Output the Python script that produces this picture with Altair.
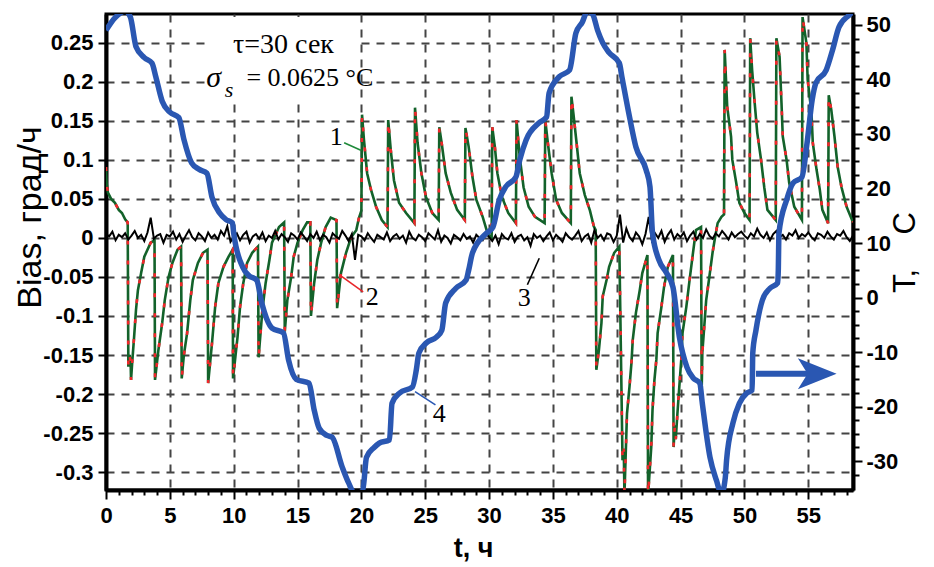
import altair as alt
import pandas as pd

# ---------------- data ----------------
# curve 1 (measured bias, град/ч) ; curve 2 (model) follows it
BIAS_POINTS = [
    (0.00, 0.091), (0.05, 0.070), (0.15, 0.058), (0.40, 0.050), (0.70, 0.045),
    (1.00, 0.036), (1.25, 0.032), (1.50, 0.024), (1.70, 0.020), (1.75, -0.165),
    (1.85, -0.150), (1.93, -0.160), (1.96, -0.182), (2.05, -0.160), (2.20, -0.127),
    (2.35, -0.092), (2.50, -0.067), (2.75, -0.045), (3.00, -0.024), (3.50, -0.006),
    (3.80, -0.003), (3.84, -0.182), (4.10, -0.144), (4.40, -0.109), (4.60, -0.080),
    (4.90, -0.050), (5.20, -0.032), (5.60, -0.015), (5.88, -0.011), (5.93, -0.180),
    (6.10, -0.150), (6.35, -0.122), (6.60, -0.080), (6.80, -0.054), (7.20, -0.032),
    (7.60, -0.019), (7.95, -0.015), (8.00, -0.186), (8.30, -0.135), (8.55, -0.088),
    (8.80, -0.058), (9.20, -0.037), (9.60, -0.024), (9.92, -0.015), (9.95, -0.180),
    (10.30, -0.127), (10.50, -0.088), (10.75, -0.058), (11.05, -0.032), (11.45, -0.019),
    (11.90, -0.011), (11.95, -0.153), (12.25, -0.092), (12.50, -0.058), (12.80, -0.028),
    (13.00, -0.006), (13.55, 0.014), (13.95, 0.020), (14.00, -0.120), (14.20, -0.080),
    (14.50, -0.050), (14.70, -0.024), (15.00, -0.006), (15.40, 0.010), (15.75, 0.020),
    (16.00, 0.020), (16.05, -0.100), (16.30, -0.058), (16.55, -0.028), (16.85, -0.006),
    (17.20, 0.014), (17.60, 0.026), (18.05, 0.023), (18.10, -0.090), (18.40, -0.045),
    (18.80, -0.019), (19.20, 0.001), (19.60, 0.010), (19.80, 0.025), (20.00, 0.035),
    (20.05, 0.158), (20.20, 0.126), (20.45, 0.083), (20.75, 0.062), (21.15, 0.040),
    (21.60, 0.023), (22.05, 0.014), (22.10, 0.151), (22.30, 0.113), (22.55, 0.074),
    (22.95, 0.045), (23.50, 0.032), (24.15, 0.019), (24.20, 0.167), (24.40, 0.122),
    (24.70, 0.083), (25.05, 0.053), (25.55, 0.032), (26.05, 0.023), (26.10, 0.142),
    (26.30, 0.120), (26.60, 0.083), (27.00, 0.058), (27.50, 0.036), (28.10, 0.023),
    (28.15, 0.141), (28.40, 0.117), (28.70, 0.078), (29.00, 0.049), (29.50, 0.027),
    (29.90, 0.005), (30.20, 0.000), (30.25, 0.142), (30.45, 0.117), (30.65, 0.083),
    (31.00, 0.053), (31.50, 0.032), (32.10, 0.019), (32.15, 0.151), (32.40, 0.104),
    (32.70, 0.065), (33.10, 0.040), (33.60, 0.027), (34.35, 0.019), (34.40, 0.151),
    (34.60, 0.122), (34.90, 0.083), (35.25, 0.049), (35.70, 0.032), (36.40, 0.019),
    (36.45, 0.181), (36.60, 0.160), (36.85, 0.122), (37.10, 0.083), (37.50, 0.055),
    (37.90, 0.035), (38.20, 0.015), (38.35, 0.010), (38.40, -0.169), (38.60, -0.144),
    (38.80, -0.109), (38.90, -0.075), (39.20, -0.054), (39.40, -0.037), (39.80, -0.019),
    (40.20, -0.011), (40.45, -0.285), (40.55, -0.270), (40.60, -0.330), (40.80, -0.225),
    (41.00, -0.190), (41.15, -0.160), (41.25, -0.131), (41.50, -0.096), (41.80, -0.067),
    (42.00, -0.045), (42.40, -0.022), (42.45, -0.330), (42.70, -0.268), (42.80, -0.220),
    (42.95, -0.182), (43.10, -0.156), (43.20, -0.122), (43.50, -0.088), (43.70, -0.063),
    (44.00, -0.037), (44.40, -0.022), (44.45, -0.268), (44.55, -0.240), (44.62, -0.258),
    (44.75, -0.225), (44.90, -0.190), (45.05, -0.156), (45.15, -0.122), (45.45, -0.088),
    (45.70, -0.054), (45.90, -0.028), (46.20, 0.010), (46.60, 0.014), (46.65, -0.195),
    (46.70, -0.147), (46.85, -0.114), (47.00, -0.080), (47.25, -0.050), (47.50, -0.019),
    (47.70, 0.001), (47.90, 0.019), (48.20, 0.027), (48.40, 0.030), (48.45, 0.241),
    (48.65, 0.168), (48.95, 0.130), (49.05, 0.100), (49.35, 0.071), (49.60, 0.045),
    (50.00, 0.032), (50.40, 0.023), (50.45, 0.256), (50.60, 0.215), (50.80, 0.173),
    (51.00, 0.135), (51.30, 0.100), (51.55, 0.065), (51.80, 0.036), (52.45, 0.023),
    (52.50, 0.256), (52.75, 0.232), (52.90, 0.173), (53.00, 0.130), (53.30, 0.100),
    (53.50, 0.071), (53.90, 0.040), (54.50, 0.023), (54.55, 0.283), (54.85, 0.250),
    (54.95, 0.203), (55.25, 0.160), (55.35, 0.122), (55.65, 0.087), (55.90, 0.062),
    (56.10, 0.036), (56.55, 0.019), (56.60, 0.183), (56.80, 0.164), (57.05, 0.130),
    (57.30, 0.091), (57.60, 0.065), (58.00, 0.040), (58.50, 0.020),
]

# curve 3: residual noise, sampled every 0.25 h, in units of 0.001 град/ч
NOISE_STEP_H = 0.25
NOISE_MILLI = [
    5, 2, 8, -3, 4, 1, 6, -2, 3, 9, 0, 4, -4, 7, 26, -1, 3, 5, -6, 4,
    2, 8, -2, 5, -5, 3, 10, 1, -3, 6, 2, -4, 7, 0, 4, -2, 9, 3, 15, -5,
    1, 6, -3, 4, 8, -6, 2, 5, -1, 7, -4, 3, 0, 9, -2, 5, 1, -5, 6, 3,
    -2, 7, 2, -4, 5, 0, 8, -3, 4, 1, -6, 6, 2, -1, 9, 3, -4, 5, -28, 4,
    2, -3, 6, 0, -5, 4, 1, -2, 7, -4, 2, 5, -1, 3, -6, 8, 0, -3, 4, 1,
    -4, 6, 2, -2, 10, -5, 3, 0, -7, 4, 1, -3, 5, -1, 2, -6, 4, 0, -3, 6,
    1, -4, 3, -8, 5, 0, -2, 6, -5, 2, 4, -3, 1, -10, 5, 0, 3, -4, 2, 7,
    -3, 4, 0, -5, 6, 1, -2, 3, 9, -4, 2, 5, -6, 10, 0, 4, -3, 6, 4, -5,
    3, 30, -6, 12, 1, -4, 7, 2, -8, 5, 27, -3, 6, 0, 9, -5, 4, 10, -2, 5,
    1, 7, -4, 3, 8, -2, 5, 0, 11, 3, -1, 6, 2, 9, 4, -2, 7, 1, 5, 8,
    3, -1, 6, 2, 12, 4, 0, 7, -3, 5, 9, 1, 4, -2, 6, 3, 10, 0, 5, 2,
    7, 1, -3, 6, 4, 0, 8, 2, -2, 5, 3, 9, 1, -4, 3,
]

# curve 4: temperature, °C
TEMP_POINTS = [
    (0.0, 49.0), (0.7, 51.3), (1.5, 52.5), (1.9, 51.5), (2.35, 46.0), (3.0, 44.0),
    (3.6, 43.0), (3.9, 40.5), (4.4, 36.0), (5.0, 34.0), (5.7, 33.0), (6.1, 29.0),
    (6.7, 24.7), (7.3, 23.5), (7.9, 22.8), (8.3, 18.4), (8.9, 15.5), (9.4, 14.3),
    (9.9, 13.7), (10.0, 11.8), (10.7, 5.6), (11.2, 4.0), (11.8, 3.2), (12.2, -1.0),
    (13.0, -5.6), (13.9, -6.5), (14.3, -11.5), (14.9, -15.0), (15.9, -15.7),
    (16.3, -20.6), (16.7, -24.0), (17.3, -25.3), (17.7, -25.6), (18.5, -31.1),
    (19.0, -34.0), (19.5, -36.0), (20.1, -35.5), (20.4, -29.3), (21.0, -27.5),
    (21.4, -26.7), (22.2, -26.1), (22.4, -19.4), (23.0, -17.5), (24.0, -16.4),
    (24.3, -13.3), (24.5, -10.2), (25.1, -8.3), (25.9, -7.2), (26.3, -6.0),
    (26.6, -1.0), (27.4, 1.7), (28.2, 3.2), (28.4, 5.0), (28.7, 8.2), (29.8, 11.8),
    (30.3, 12.9), (30.8, 17.9), (31.3, 20.3), (32.1, 22.1), (32.4, 25.2), (32.9, 28.9),
    (33.9, 32.0), (34.5, 33.1), (34.7, 37.5), (35.5, 40.5), (36.3, 41.7), (36.8, 48.5),
    (37.3, 50.5), (37.7, 52.5), (38.1, 52.0), (38.5, 49.0), (38.9, 46.7), (39.4, 44.9),
    (40.2, 43.0), (40.4, 40.5), (41.0, 33.1), (41.5, 27.6), (42.3, 23.4), (42.6, 20.3),
    (42.8, 11.8), (43.3, 6.9), (43.9, 4.5), (44.4, 1.9), (44.9, -7.2), (45.5, -12.8),
    (46.0, -14.8), (46.5, -15.7), (46.7, -19.4), (47.3, -29.3), (47.8, -33.5),
    (48.2, -36.0), (48.5, -33.0), (48.6, -29.8), (49.1, -23.0), (49.6, -19.4),
    (50.2, -17.5), (50.6, -17.0), (50.65, -10.2), (50.9, -6.0), (51.4, -0.5),
    (52.0, 1.7), (52.6, 2.7), (52.65, 5.0), (52.7, 11.8), (53.3, 17.9), (53.8, 21.0),
    (54.5, 22.1), (54.9, 28.3), (55.3, 36.2), (55.6, 39.4), (56.4, 41.7), (56.9, 45.4),
    (57.4, 49.6), (58.2, 51.8), (58.5, 52.5),
]

X_TICKS = list(range(0, 59))
BIAS_TICKS = [-0.3, -0.25, -0.2, -0.15, -0.1, -0.05, 0, 0.05, 0.1, 0.15, 0.2, 0.25]
T_TICKS = [-32.5, -30, -27.5, -25, -22.5, -20, -17.5, -15, -12.5, -10, -7.5, -5, -2.5,
           0, 2.5, 5, 7.5, 10, 12.5, 15, 17.5, 20, 22.5, 25, 27.5, 30, 32.5, 35,
           37.5, 40, 42.5, 45, 47.5, 50]
X_DOMAIN = [0, 58.5]
B_DOMAIN = [-0.323, 0.287]
T_DOMAIN = [-35.3, 52]

# annotations (text, t, bias)
PARAM_BOX = [(7.8, 19.7, 0.176, 0.283)]  # white backing behind the parameter text
PARAM_TAU = [("τ=30 сек", 13.9, 0.247)]
PARAM_SIGMA = [("σ", 7.85, 0.205)]
PARAM_SUB = [("s", 9.3, 0.189)]
PARAM_VAL = [("= 0.0625 °C", 11.0, 0.205)]
CURVE_LABELS = [("1", 18.03, 0.129), ("2", 20.85, -0.076), ("3", 32.76, -0.077), ("4", 26.1, -0.226)]
LEADERS = [  # (curve, t0, b0, t1, b1)
    ("1", 18.65, 0.122, 20.0, 0.112),
    ("2", 18.26, -0.047, 20.14, -0.069),
    ("3", 33.0, -0.060, 33.93, -0.026),
    ("4", 24.2, -0.197, 25.8, -0.214),
]
LEADER_COLORS = ["#1f8a3a", "#e8262a", "#000000", "#2a57b2"]
ARROW = [(50.9, -0.174), (55.6, -0.174)]
ARROW_HEAD = [(55.7, -0.174)]

# ---------------- tables ----------------
bias_df = pd.DataFrame(BIAS_POINTS, columns=["t", "b"])
bias_df["i"] = range(len(bias_df))
noise_df = pd.DataFrame({"t": [k * NOISE_STEP_H for k in range(len(NOISE_MILLI))],
                         "b": [v / 1000 for v in NOISE_MILLI]})
temp_df = pd.DataFrame(TEMP_POINTS, columns=["t", "T"])
temp_df["i"] = range(len(temp_df))
box_df = pd.DataFrame(PARAM_BOX, columns=["t", "t2", "b", "b2"])

lead_rows = []
for name, t0, b0, t1, b1 in LEADERS:
    lead_rows.append({"c": name, "t": t0, "b": b0, "o": 0})
    lead_rows.append({"c": name, "t": t1, "b": b1, "o": 1})
lead_df = pd.DataFrame(lead_rows)
arrow_df = pd.DataFrame(ARROW, columns=["t", "b"])
head_df = pd.DataFrame(ARROW_HEAD, columns=["t", "b"])


def txt_df(rows):
    return pd.DataFrame(rows, columns=["s", "t", "b"])


# ---------------- axes ----------------
MAJ5 = "datum.value % 5 === 0"
X_AXIS = alt.Axis(
    values=X_TICKS,
    labelExpr=f"{MAJ5} ? datum.label : ''",
    tickSize={"condition": {"test": MAJ5, "value": 9}, "value": 5},
    tickColor="black", tickWidth=2,
    grid=True, gridDash=[8, 7], gridColor="#444444", gridWidth=2,
    gridOpacity={"condition": {"test": f"{MAJ5} && datum.value > 0", "value": 1}, "value": 0},
    domainColor="black", domainWidth=4,
    labelFont="Liberation Sans", labelFontSize=22, labelFontWeight="bold", labelColor="black",
    labelPadding=6, labelFlush=False, labelOverlap=False,
    title="t, ч", titleFont="Liberation Sans", titleFontSize=27, titleFontWeight="bold",
    titleColor="black", titleX=367, titleY=58, titleAlign="center", titleBaseline="middle",
)
NUMFMT = "(datum.value < 0 ? '-' : '') + format(abs(datum.value), '~g')"
B_AXIS = alt.Axis(
    values=BIAS_TICKS, labelExpr=NUMFMT,
    tickSize=8, tickColor="black", tickWidth=2,
    grid=True, gridDash=[8, 7], gridColor="#444444", gridWidth=2,
    domainColor="black", domainWidth=4,
    labelFont="Liberation Sans", labelFontSize=22, labelFontWeight="bold", labelColor="black",
    labelPadding=5, labelFlush=False, labelOverlap=False,
    title="Bias, град/ч", titleFont="Liberation Sans", titleFontSize=34, titleFontWeight="normal",
    titleColor="black", titleX=-76, titleY=203, titleAngle=270, titleAlign="center",
    titleBaseline="middle",
)
MAJ10 = "datum.value % 10 === 0"
T_AXIS = alt.Axis(
    orient="right", values=T_TICKS,
    labelExpr=f"{MAJ10} ? ({NUMFMT}) : ''",
    tickSize={"condition": {"test": MAJ10, "value": 9}, "value": 6},
    tickColor="black", tickWidth=2, grid=False,
    domainColor="black", domainWidth=4,
    labelFont="Liberation Sans", labelFontSize=22, labelFontWeight="bold", labelColor="black",
    labelPadding=4, labelFlush=False, labelOverlap=False,
    title="T,\u00a0\u00a0\u00a0\u00a0C", titleFont="Liberation Sans", titleFontSize=31,
    titleFontWeight="normal", titleColor="black", titleX=52, titleY=238, titleAngle=270,
    titleAlign="center", titleBaseline="middle",
)

X = alt.X("t:Q", scale=alt.Scale(domain=X_DOMAIN, nice=False, zero=False), axis=X_AXIS)
YB = alt.Y("b:Q", scale=alt.Scale(domain=B_DOMAIN, nice=False, zero=False), axis=B_AXIS)
YT = alt.Y("T:Q", scale=alt.Scale(domain=T_DOMAIN, nice=False, zero=False), axis=T_AXIS)

box = alt.Chart(box_df).mark_rect(color="white", opacity=1).encode(
    x=X, x2="t2:Q", y=YB, y2="b2:Q")

green = alt.Chart(bias_df).mark_line(color="#13622a", strokeWidth=2.6, clip=True).encode(
    x=X, y=YB, order="i:Q")
red = alt.Chart(bias_df).mark_line(color="#f0262a", strokeWidth=2.6, strokeDash=[4, 16],
                                   clip=True).encode(x=X, y=YB, order="i:Q")
noise = alt.Chart(noise_df).mark_line(color="black", strokeWidth=2, clip=True).encode(x=X, y=YB)

leaders = alt.Chart(lead_df).mark_line(strokeWidth=1.6).encode(
    x=X, y=YB, order="o:Q",
    color=alt.Color("c:N", scale=alt.Scale(domain=["1", "2", "3", "4"], range=LEADER_COLORS),
                    legend=None))

serif = "Liberation Serif"
tau = alt.Chart(txt_df(PARAM_TAU)).mark_text(font=serif, fontSize=28, color="black",
                                             align="center", baseline="middle").encode(
    x=X, y=YB, text="s:N")
sigma = alt.Chart(txt_df(PARAM_SIGMA)).mark_text(font=serif, fontSize=30, fontStyle="italic",
                                                 color="black", align="left",
                                                 baseline="middle").encode(x=X, y=YB, text="s:N")
sub = alt.Chart(txt_df(PARAM_SUB)).mark_text(font=serif, fontSize=22, fontStyle="italic",
                                             color="black", align="left",
                                             baseline="middle").encode(x=X, y=YB, text="s:N")
val = alt.Chart(txt_df(PARAM_VAL)).mark_text(font=serif, fontSize=26, color="black",
                                             align="left", baseline="middle").encode(
    x=X, y=YB, text="s:N")
nums = alt.Chart(txt_df(CURVE_LABELS)).mark_text(font=serif, fontSize=26, color="black",
                                                 align="center", baseline="middle").encode(
    x=X, y=YB, text="s:N")

shaft = alt.Chart(arrow_df).mark_line(color="#2a57b2", strokeWidth=6).encode(x=X, y=YB)
head = alt.Chart(head_df).mark_point(
    shape="M -1 -0.8 L 1 0 L -1 0.8 L -0.5 0 Z", size=1500, filled=True, color="#2a57b2",
    opacity=1).encode(x=X, y=YB)

left = alt.layer(box, green, red, noise, leaders, tau, sigma, sub, val, nums, shaft, head)

temp = alt.Chart(temp_df).mark_line(color="#2a57b2", strokeWidth=5.5, clip=True,
                                    interpolate="monotone", strokeJoin="round").encode(
    x=X, y=YT, order="i:Q")

chart = (
    alt.layer(left, temp)
    .resolve_scale(y="independent")
    .properties(width=747, height=476,
                padding={"left": 106, "top": 14, "right": 81, "bottom": 77},
                autosize=alt.AutoSizeParams(type="none"),
                background="white")
    .configure_view(stroke="black", strokeWidth=3)
)

chart.save("out.html", embed_options={"renderer": "svg", "actions": False})
